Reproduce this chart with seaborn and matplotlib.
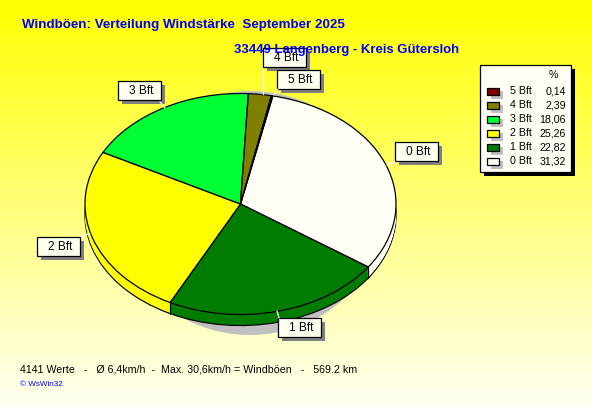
import numpy as np
import matplotlib.pyplot as plt
from matplotlib.patches import Ellipse, Rectangle
import seaborn as sns

# -------------data-------------
labels = ['0 Bft', '1 Bft', '2 Bft', '3 Bft', '4 Bft', '5 Bft']
percent = [31.32, 22.82, 25.26, 18.06, 2.39, 0.14]
percent_text = ['31,32', '22,82', '25,26', '18,06', '2,39', '0,14']
title_1 = 'Windböen: Verteilung Windstärke  September 2025'
title_2 = '33449 Langenberg - Kreis Gütersloh'
footer = '4141 Werte   -   Ø 6,4km/h  -  Max. 30,6km/h = Windböen   -   569.2 km'
credit = '© WsWin32'

colors = sns.color_palette(['#FFFFF5', '#007D00', '#FFFF00', '#00FF33', '#808000', '#800000'])

# label boxes, left/top in pixels
box_pos = {'0 Bft': (395, 142), '1 Bft': (278, 318), '2 Bft': (37, 237),
           '3 Bft': (118, 81), '4 Bft': (263, 48), '5 Bft': (277, 70)}
leaders = {'0 Bft': ((387, 165), (395, 162)), '1 Bft': ((277, 311), (279, 318)),
           '2 Bft': ((81, 236), (90, 234)), '3 Bft': ((160, 102), (165, 108)),
           '4 Bft': ((263, 68), (263, 94)), '5 Bft': ((278, 89), (274, 95))}

W, H = 592, 407
CX, CY, RX, RY, DEPTH = 240.5, 204, 155.5, 110.5, 11

sns.set_theme(style='white')
plt.rcParams['font.family'] = ['Liberation Sans', 'DejaVu Sans']

fig = plt.figure(figsize=(W / 100, H / 100), dpi=100)

# background + all the pixel positioned stuff
bg = fig.add_axes([0, 0, 1, 1])
bg.set_xlim(0, W)
bg.set_ylim(H, 0)
bg.axis('off')
grad = np.linspace(0, 1, 256).reshape(-1, 1)
rgb = np.dstack([np.ones_like(grad), np.ones_like(grad), 0.95 * grad])
bg.imshow(rgb, extent=(0, W, H, 0), aspect='auto', zorder=0)

# shadow under the pie
bg.add_patch(Ellipse((250, 213), 2 * 132, 2 * 122, color='#C0C0C0', lw=0, zorder=1))

# pie has its own axes, squeezed so that the circle becomes an ellipse
pie_ax = fig.add_axes([(CX - RX) / W, 1 - (CY + RY) / H, 2 * RX / W, 2 * RY / H], zorder=2)
pie_kw = dict(colors=colors, startangle=78, counterclock=False, radius=1)
dy = 1 / RY
pie_ax.pie(percent, center=(0, -DEPTH * dy), wedgeprops=dict(edgecolor='black', linewidth=0.9, clip_on=False), **pie_kw)
for k in range(DEPTH - 1, 0, -1):
    pie_ax.pie(percent, center=(0, -k * dy), wedgeprops=dict(linewidth=0, clip_on=False), **pie_kw)

# the short vertical edges on the rim
ang = np.radians(78 - np.cumsum(percent) * 3.6)
for a in ang:
    if np.sin(a) < 0:
        pie_ax.plot([np.cos(a)] * 2, [np.sin(a), np.sin(a) - DEPTH * dy], color='black', lw=0.9, clip_on=False)
# rim line of the top face sits on the last pie
pie_ax.pie(percent, wedgeprops=dict(edgecolor='black', linewidth=0.9, clip_on=False), **pie_kw)
pie_ax.set_aspect('auto')
pie_ax.set_xlim(-1, 1)
pie_ax.set_ylim(-1, 1)
pie_ax.axis('off')

# overlay for text, boxes and legend
top = fig.add_axes([0, 0, 1, 1], zorder=3)
top.set_xlim(0, W)
top.set_ylim(H, 0)
top.axis('off')
top.patch.set_alpha(0)

top.text(22, 25, title_1, color='#0000FF', fontsize=9.6, fontweight='bold', va='center')
top.text(234, 50, title_2, color='#0000FF', fontsize=9.45, fontweight='bold', va='center')
top.text(20, 369, footer, color='black', fontsize=7.7, va='center')
top.text(20, 385, credit, color='#0000FF', fontsize=5.9, va='center')

for name, (a, b) in leaders.items():
    top.plot([a[0], b[0]], [a[1], b[1]], color='white', lw=0.9)

for name in labels:
    x, y = box_pos[name]
    top.add_patch(Rectangle((x + 4, y + 4), 43, 19, color='#808080', lw=0))
    top.add_patch(Rectangle((x, y), 43, 19, facecolor='#FFFFF0', edgecolor='black', lw=0.9))
    top.text(x + 23, y + 10, name, fontsize=8.6, color='black', ha='center', va='center')

# legend box
top.add_patch(Rectangle((484, 69), 91, 107, color='black', lw=0))
top.add_patch(Rectangle((480, 65), 91, 107, facecolor='#FFFFF5', edgecolor='black', lw=0.9))
top.text(553, 75, '%', fontsize=7.7, ha='center', va='center', color='black')
for i, name in enumerate(labels[::-1]):
    y = 91.5 + i * 14
    idx = len(labels) - 1 - i
    top.add_patch(Rectangle((491, y - 1), 12, 8, color='#C0C0C0', lw=0))
    top.add_patch(Rectangle((487, y - 4), 12, 7, facecolor=colors[idx], edgecolor='black', lw=0.9))
    top.text(510, y, name, fontsize=7.7, va='center', color='black')
    top.text(566, y, percent_text[idx], fontsize=7.7, va='center', ha='right', color='black')

fig.savefig('out.png', dpi=100)
